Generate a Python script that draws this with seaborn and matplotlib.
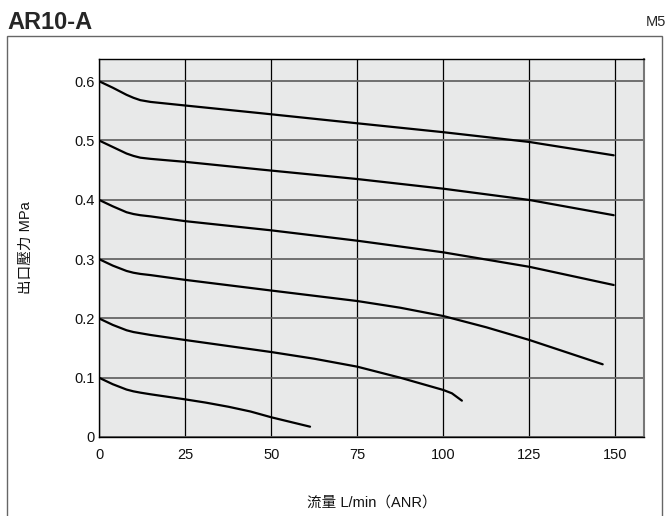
import pandas as pd
import matplotlib.pyplot as plt
import seaborn as sns
from matplotlib.patches import Rectangle

# set pressure curves (flow L/min, outlet pressure MPa)
flow_06 = [0, 4, 8, 10, 12, 15, 25, 47, 75, 100, 125, 149.5]
press_06 = [0.600, 0.589, 0.577, 0.572, 0.568, 0.565, 0.559, 0.546, 0.529, 0.514, 0.4975, 0.475]

flow_05 = [0, 4, 8, 10, 12, 15, 25, 47, 75, 100, 125, 149.5]
press_05 = [0.500, 0.489, 0.478, 0.474, 0.471, 0.469, 0.464, 0.451, 0.435, 0.4187, 0.3997, 0.374]

flow_04 = [0, 4, 8, 10, 12, 15, 25, 50, 75, 100, 125, 149.5]
press_04 = [0.400, 0.389, 0.379, 0.376, 0.374, 0.372, 0.364, 0.3485, 0.331, 0.3114, 0.287, 0.2563]

flow_03 = [0, 4, 8, 10, 12, 15, 25, 50, 75, 87.5, 100, 112.5, 125, 146.3]
press_03 = [0.300, 0.289, 0.280, 0.277, 0.275, 0.273, 0.265, 0.247, 0.2293, 0.218, 0.204, 0.185, 0.1636, 0.1226]

flow_02 = [0, 4, 8, 10, 12, 15, 25, 50, 62.5, 75, 87.5, 100, 102.5, 105.4]
press_02 = [0.200, 0.189, 0.180, 0.177, 0.175, 0.172, 0.1636, 0.1433, 0.132, 0.1186, 0.1, 0.0793, 0.0737, 0.0613]

flow_01 = [0, 4, 8, 10, 12, 15, 25, 31, 37.6, 44, 50, 61.3]
press_01 = [0.100, 0.089, 0.080, 0.077, 0.0748, 0.072, 0.0635, 0.058, 0.051, 0.043, 0.0333, 0.0174]

x_ticks = [0, 25, 50, 75, 100, 125, 150]
y_ticks = [0, 0.1, 0.2, 0.3, 0.4, 0.5, 0.6]
y_tick_labels = ['0', '0.1', '0.2', '0.3', '0.4', '0.5', '0.6']

curves = {'0.6': (flow_06, press_06), '0.5': (flow_05, press_05),
          '0.4': (flow_04, press_04), '0.3': (flow_03, press_03),
          '0.2': (flow_02, press_02), '0.1': (flow_01, press_01)}
frames = []
for name, (f, p) in curves.items():
    frames.append(pd.DataFrame({'flow': f, 'pressure': p, 'set': name}))
df = pd.concat(frames, ignore_index=True)

sns.set_style('white')
plt.rcParams['font.family'] = ['Liberation Sans', 'Noto Sans CJK TC', 'DejaVu Sans']

fig = plt.figure(figsize=(6.69, 5.16), dpi=100)
ax = fig.add_axes([99 / 669, 1 - 437 / 516, 545 / 669, 378 / 516])
ax.set_facecolor('#e8e9e9')

sns.lineplot(data=df, x='flow', y='pressure', hue='set', units='set',
             estimator=None, sort=False, legend=False,
             palette=['black'] * 6, linewidth=1.6, ax=ax)

ax.set_xlim(0, 158.3)
ax.set_ylim(0, 0.6374)
ax.set_xticks(x_ticks)
ax.set_yticks(y_ticks)
ax.set_yticklabels(y_tick_labels)
ax.tick_params(axis='both', length=0, labelsize=10.5, colors='#111111')
ax.tick_params(axis='x', pad=8)
ax.tick_params(axis='y', pad=3)

ax.set_axisbelow(True)
ax.xaxis.grid(True, color='black', linewidth=0.9)
ax.yaxis.grid(True, color='#666666', linewidth=1.3)
for side in ['left', 'bottom', 'top']:
    ax.spines[side].set_color('black')
    ax.spines[side].set_linewidth(1.0)
ax.spines['right'].set_color('#777777')
ax.spines['right'].set_linewidth(1.5)

ax.set_xlabel('流量 L/min（ANR）', fontsize=10.5, labelpad=24, color='#111111')
ax.set_ylabel('出口壓力 MPa', fontsize=10.5, labelpad=30, color='#111111')

# title and port size above the frame
fig.text(7 / 669, 1 - 29 / 516, 'AR10-A', fontsize=17, fontweight='bold',
         family=['Liberation Sans Narrow', 'Liberation Sans'], ha='left', va='baseline')
fig.text(666 / 669, 1 - 26 / 516, 'M5', fontsize=10.5,
         family=['Liberation Sans Narrow', 'Liberation Sans'], ha='right', va='baseline')

# outer frame
fig.add_artist(Rectangle((7 / 669, -0.02), 655 / 669, 1 - 36 / 516 + 0.02,
                         transform=fig.transFigure, fill=False,
                         edgecolor='#666666', linewidth=1.0))

fig.savefig('out.png', dpi=100)
